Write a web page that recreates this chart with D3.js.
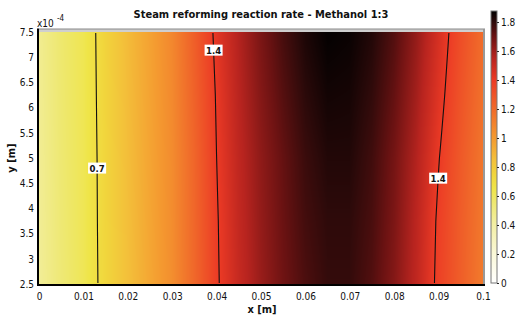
<!DOCTYPE html>
<html>
<head>
<meta charset="utf-8">
<script src="https://cdn.jsdelivr.net/npm/d3@7"></script>
<style>
body{margin:0;background:#fff}
svg{display:block}
text{font-family:"DejaVu Sans Condensed","DejaVu Sans",sans-serif;fill:#111}
</style>
</head>
<body>
<svg id="chart"></svg>
<script>
//----------data-------------
var xs = [0,0.005,0.01,0.015,0.02,0.025,0.03,0.035,0.04,0.045,0.05,0.055,0.06,0.065,0.07,0.075,0.08,0.085,0.09,0.095,0.1]
var ys = [2.5e-4,3.75e-4,5e-4,6.25e-4,7.5e-4]

// reaction rate read along x, one row per y value
var rate250 = [0.44,0.54,0.615,0.745,0.85,0.95,1.05,1.21,1.385,1.51,1.61,1.69,1.75,1.79,1.79,1.74,1.65,1.53,1.37,1.25,1.13]
var rate375 = [0.445,0.545,0.618,0.748,0.855,0.955,1.055,1.215,1.39,1.52,1.62,1.70,1.765,1.80,1.80,1.755,1.665,1.54,1.38,1.255,1.14]
var rate500 = [0.45,0.55,0.62,0.75,0.86,0.96,1.06,1.22,1.40,1.53,1.63,1.71,1.78,1.82,1.82,1.77,1.68,1.56,1.405,1.27,1.15]
var rate625 = [0.455,0.555,0.623,0.755,0.865,0.965,1.07,1.235,1.41,1.545,1.65,1.735,1.805,1.845,1.84,1.795,1.71,1.59,1.44,1.295,1.17]
var rate750 = [0.46,0.56,0.625,0.76,0.87,0.97,1.08,1.25,1.43,1.56,1.67,1.76,1.83,1.87,1.86,1.82,1.74,1.62,1.47,1.32,1.19]
var rates = [rate250,rate375,rate500,rate625,rate750]

var xTicks = [0,0.01,0.02,0.03,0.04,0.05,0.06,0.07,0.08,0.09,0.1]
var yTicks = [2.5,3,3.5,4,4.5,5,5.5,6,6.5,7,7.5]
var cbTicks = [0,0.2,0.4,0.6,0.8,1,1.2,1.4,1.6,1.8]
var cbMax = 1.876
var contourLevels = [0.7,1.4]
// label spots: contour level, y of label, x range to search
var labelLevels = [0.7,1.4,1.4]
var labelYs = [4.8e-4,7.14e-4,4.6e-4]
var labelRanges = [[0,0.03],[0.03,0.06],[0.075,0.1]]

// colour map (light hot)
var heatStops = [0,0.2,0.4,0.55,0.65,0.75,0.85,1.0,1.2,1.4,1.55,1.7,1.8,1.876]
var heatColors = ["#ffffff","#faf8d8","#f3efa5","#eee872","#efe548","#f1d53c","#f3c03a","#f49a30","#f06a2a","#ec3a25","#b8241f","#6a1212","#2e0a0a","#000000"]

//----------setup-------------
var screen = {width:520, height:316}
var plot = {left:39, right:483, top:32, bottom:284}
var bar = {left:491, right:497, top:11, bottom:283}

var svg = d3.select("#chart")
	.attr("width",screen.width)
	.attr("height",screen.height)

var xScale = d3.scaleLinear().domain([0,0.1]).range([plot.left,plot.right])
var yScale = d3.scaleLinear().domain([2.5e-4,7.5e-4]).range([plot.bottom,plot.top])
var cbScale = d3.scaleLinear().domain([0,cbMax]).range([bar.bottom,bar.top])
var colorScale = d3.scaleLinear().domain(heatStops).range(heatColors).clamp(true)

var rateAt = function(x,y)
{
	var i = Math.max(0,Math.min(xs.length-2,d3.bisectRight(xs,x)-1))
	var j = Math.max(0,Math.min(ys.length-2,d3.bisectRight(ys,y)-1))
	var tx = Math.max(0,Math.min(1,(x-xs[i])/(xs[i+1]-xs[i])))
	var ty = Math.max(0,Math.min(1,(y-ys[j])/(ys[j+1]-ys[j])))
	var a = rates[j][i]*(1-tx) + rates[j][i+1]*tx
	var b = rates[j+1][i]*(1-tx) + rates[j+1][i+1]*tx
	return a*(1-ty) + b*ty
}

//----------heatmap-------------
var w = plot.right-plot.left
var h = plot.bottom-plot.top
var values = new Array(w*h)
var canvas = document.createElement("canvas")
canvas.width = w
canvas.height = h
var ctx = canvas.getContext("2d")
var img = ctx.createImageData(w,h)
for (var j=0; j<h; j++)
{
	var yv = yScale.invert(plot.top+j+0.5)
	for (var i=0; i<w; i++)
	{
		var v = rateAt(xScale.invert(plot.left+i+0.5),yv)
		values[j*w+i] = v
		var c = d3.rgb(colorScale(v))
		var k = (j*w+i)*4
		img.data[k] = c.r
		img.data[k+1] = c.g
		img.data[k+2] = c.b
		img.data[k+3] = 255
	}
}
ctx.putImageData(img,0,0)

svg.append("image")
	.attr("x",plot.left)
	.attr("y",plot.top)
	.attr("width",w)
	.attr("height",h)
	.attr("preserveAspectRatio","none")
	.attr("href",canvas.toDataURL())

//----------contours-------------
svg.append("clipPath")
	.attr("id","inner")
	.append("rect")
	.attr("x",1).attr("y",1)
	.attr("width",w-2).attr("height",h-2)

var contours = d3.contours().size([w,h]).thresholds(contourLevels)(values)
svg.append("g")
	.attr("transform","translate("+plot.left+","+plot.top+")")
	.attr("clip-path","url(#inner)")
	.selectAll("path")
	.data(contours)
	.enter()
	.append("path")
	.attr("d",d3.geoPath())
	.attr("fill","none")
	.attr("stroke","#111")
	.attr("stroke-width",1.1)

var findCrossing = function(level,y,range)
{
	var lo = range[0], hi = range[1]
	var up = rateAt(lo,y) < rateAt(hi,y)
	for (var n=0; n<40; n++)
	{
		var mid = (lo+hi)/2
		if ((rateAt(mid,y) < level) == up) lo = mid
		else hi = mid
	}
	return (lo+hi)/2
}

var labels = svg.append("g")
	.selectAll("g")
	.data(labelLevels)
	.enter()
	.append("g")
	.attr("transform",function(d,i)
	{
		var x = findCrossing(d,labelYs[i],labelRanges[i])
		return "translate("+xScale(x)+","+yScale(labelYs[i])+")"
	})
labels.append("rect")
	.attr("x",-9).attr("y",-5.5)
	.attr("width",18).attr("height",11)
	.attr("fill","#fff")
labels.append("text")
	.attr("text-anchor","middle")
	.attr("dy","0.36em")
	.style("font-size","9.5px")
	.style("font-weight","bold")
	.text(function(d){ return d })

//----------frame-------------
svg.append("line")
	.attr("x1",plot.left).attr("x2",plot.right+2)
	.attr("y1",plot.top-1.5).attr("y2",plot.top-1.5)
	.attr("stroke","#cfcfcf").attr("stroke-width",3)
svg.append("line")
	.attr("x1",plot.left).attr("x2",plot.right+2)
	.attr("y1",plot.top-3).attr("y2",plot.top-3)
	.attr("stroke","#888").attr("stroke-width",1)
svg.append("line")
	.attr("x1",plot.right+1).attr("x2",plot.right+1)
	.attr("y1",plot.top-3).attr("y2",plot.bottom)
	.attr("stroke","#999").attr("stroke-width",2)
svg.append("line")
	.attr("x1",plot.left-1).attr("x2",plot.left-1)
	.attr("y1",plot.top-3.5).attr("y2",plot.bottom+2)
	.attr("stroke","#000").attr("stroke-width",2)
svg.append("line")
	.attr("x1",plot.left-2).attr("x2",plot.right+2)
	.attr("y1",plot.bottom+1).attr("y2",plot.bottom+1)
	.attr("stroke","#000").attr("stroke-width",2)

//----------axes-------------
var xAxis = d3.axisBottom(xScale).tickValues(xTicks).tickSize(0).tickPadding(9)
	.tickFormat(function(d){ return d3.format("~g")(d) })
svg.append("g")
	.attr("transform","translate(0,"+plot.bottom+")")
	.call(xAxis)
	.call(function(g){ g.select(".domain").remove() })
	.selectAll("text").style("font-size","10px")

var yAxisScale = d3.scaleLinear().domain([2.5,7.5]).range([plot.bottom,plot.top])
var yAxis = d3.axisLeft(yAxisScale).tickValues(yTicks).tickSize(0).tickPadding(5)
	.tickFormat(function(d){ return d3.format("~g")(d) })
svg.append("g")
	.attr("transform","translate("+plot.left+",0)")
	.call(yAxis)
	.call(function(g){ g.select(".domain").remove() })
	.selectAll("text").style("font-size","10px")

svg.append("text")
	.attr("x",37).attr("y",27)
	.style("font-size","10px")
	.text("x10")
svg.append("text")
	.attr("x",57).attr("y",21)
	.style("font-size","8px")
	.text("-4")

//----------labels-------------
svg.append("text")
	.attr("x",261).attr("y",18)
	.attr("text-anchor","middle")
	.style("font-size","11px")
	.style("font-weight","bold")
	.text("Steam reforming reaction rate - Methanol 1:3")
svg.append("text")
	.attr("x",262).attr("y",313)
	.attr("text-anchor","middle")
	.style("font-size","11px")
	.style("font-weight","bold")
	.text("x [m]")
svg.append("text")
	.attr("transform","translate(15,158) rotate(-90)")
	.attr("text-anchor","middle")
	.style("font-size","11px")
	.style("font-weight","bold")
	.text("y [m]")

//----------colorbar-------------
var grad = svg.append("defs")
	.append("linearGradient")
	.attr("id","heat")
	.attr("x1",0).attr("y1",1).attr("x2",0).attr("y2",0)
grad.selectAll("stop")
	.data(heatStops)
	.enter()
	.append("stop")
	.attr("offset",function(d){ return d/cbMax })
	.attr("stop-color",function(d,i){ return heatColors[i] })

svg.append("rect")
	.attr("x",bar.left).attr("y",bar.top)
	.attr("width",bar.right-bar.left)
	.attr("height",bar.bottom-bar.top)
	.attr("fill","url(#heat)")
	.attr("stroke","#777")
	.attr("stroke-width",1)

var cbAxis = d3.axisRight(cbScale).tickValues(cbTicks).tickSize(2).tickPadding(2)
	.tickFormat(function(d){ return d3.format("~g")(d) })
svg.append("g")
	.attr("transform","translate("+bar.right+",0)")
	.call(cbAxis)
	.call(function(g){ g.select(".domain").remove() })
	.call(function(g){ g.selectAll("line").attr("stroke","#222") })
	.selectAll("text").style("font-size","10px")
</script>
</body>
</html>
